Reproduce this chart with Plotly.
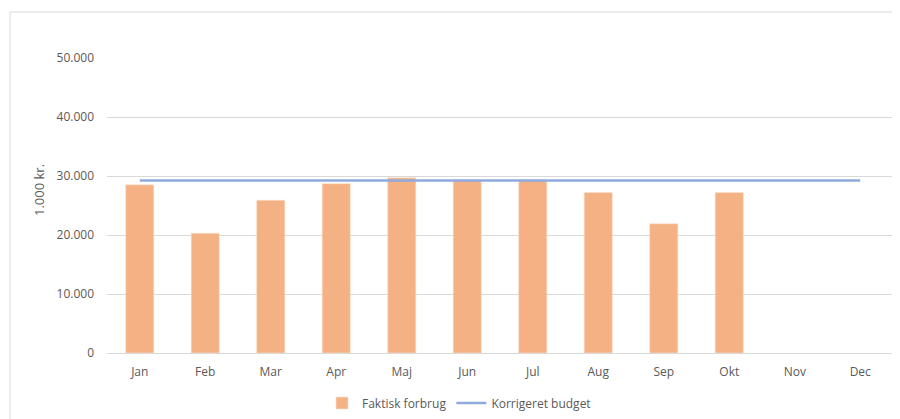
import plotly.graph_objects as go

months = ["Jan", "Feb", "Mar", "Apr", "Maj", "Jun", "Jul", "Aug", "Sep", "Okt", "Nov", "Dec"]
faktisk = [28500, 20300, 25900, 28700, 29700, 29300, 29200, 27200, 21900, 27200, None, None]
budget = [29250] * 12
y_ticks = [0, 10000, 20000, 30000, 40000, 50000]

# page has an 8px body margin, so the figure is 8px smaller and page coords are offset
OFF = 8
W, H = 900 - OFF, 419 - OFF
plot_l, plot_r, plot_t, plot_b = 107, 893, 58, 353  # page pixel coords of plot area
L = plot_l - OFF
R = W - (plot_r - OFF)
T = plot_t - OFF
B = H - (plot_b - OFF)
pw, ph = plot_r - plot_l, plot_b - plot_t

def px(x):  # page pixel -> paper
    return (x - plot_l) / pw

def py(y):
    return (plot_b - y) / ph

font_fam = "Open Sans, Liberation Sans, Arial, sans-serif"
txt_col = "#595959"

fig = go.Figure()
fig.add_trace(go.Bar(
    x=months, y=faktisk, name="Faktisk forbrug",
    marker=dict(color="#F4B183", line=dict(color="#FBE3D2", width=0.6)),
))
fig.add_trace(go.Scatter(
    x=months, y=budget, name="Korrigeret budget", mode="lines",
    line=dict(color="#8FAADC", width=2.6),
))

fig.update_layout(
    width=W, height=H,
    margin=dict(l=L, r=R, t=T, b=B, pad=0, autoexpand=False),
    paper_bgcolor="white", plot_bgcolor="white",
    separators=",.",
    bargap=0.57,
    font=dict(family=font_fam, size=12, color=txt_col),
    showlegend=True,
    legend=dict(
        orientation="h", x=px(459), y=py(403), xanchor="center", yanchor="middle",
        font=dict(size=12, color=txt_col), itemwidth=30, traceorder="normal",
        bgcolor="rgba(0,0,0,0)",
    ),
    xaxis=dict(
        showgrid=False, showline=True, linecolor="#D9D9D9", linewidth=1,
        ticks="", tickfont=dict(size=12, color=txt_col), ticklabelstandoff=8,
        fixedrange=True,
    ),
    yaxis=dict(
        range=[0, 50000], tickvals=y_ticks, tickformat=",d",
        showgrid=True, gridcolor="#D9D9D9", gridwidth=1,
        zeroline=False, showline=False, ticks="",
        tickfont=dict(size=12, color=txt_col), ticklabelstandoff=12,
        fixedrange=True,
    ),
    shapes=[dict(
        type="rect", xref="paper", yref="paper",
        x0=px(10), x1=px(910), y0=py(430), y1=py(12),
        line=dict(color="#D9D9D9", width=1), fillcolor="rgba(0,0,0,0)", layer="below",
    )],
    annotations=[dict(
        text="1.000 kr.", xref="paper", yref="paper", x=px(39), y=py(190),
        xanchor="center", yanchor="middle", textangle=-90, showarrow=False,
        font=dict(size=13, color=txt_col),
    )],
)

fig.write_html("out.html")
